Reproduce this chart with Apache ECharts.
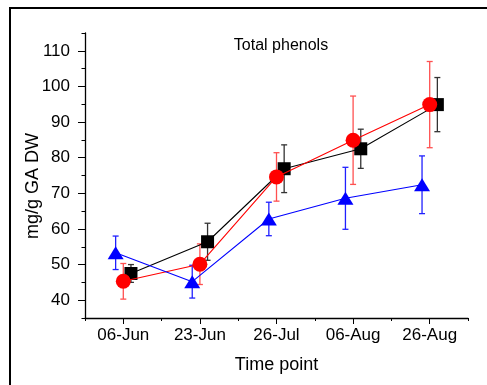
<!DOCTYPE html>
<html>
<head>
<meta charset="utf-8">
<script src="https://cdn.jsdelivr.net/npm/echarts@6/dist/echarts.min.js"></script>
<style>
  html, body { margin: 0; padding: 0; background: #fff; }
  #chart { width: 487px; height: 385px; }
</style>
</head>
<body>
<div id="chart"></div>
<script>
// categories and values
const categories = ['06-Jun', '23-Jun', '26-Jul', '06-Aug', '26-Aug'];
const blackMean = [47.5, 56.4, 76.9, 82.5, 94.9];
const blackErr = [2.5, 5.2, 6.7, 5.5, 7.6];
const redMean = [45.3, 50.1, 74.6, 84.9, 94.9];
const redErr = [5.0, 5.7, 6.8, 12.4, 12.1];
const blueMean = [53.3, 45.2, 62.8, 68.6, 72.4];
const blueErr = [4.7, 4.6, 4.7, 8.7, 8.1];
const yMajor = [40, 50, 60, 70, 80, 90, 100, 110];
const yMinor = [35, 45, 55, 65, 75, 85, 95, 105, 115];
const xMajor = [0, 1, 2, 3, 4];
const xMinor = [-0.5, 0.5, 1.5, 2.5, 3.5, 4.5];

const FONT = 'Liberation Sans';

function points(mean, shift) {
  return mean.map((v, i) => [i + shift, v]);
}

function bars(mean, err, shift) {
  return mean.map((v, i) => [i + shift, v - err[i], v + err[i]]);
}

function errorSeries(data, color, z) {
  return {
    type: 'custom',
    z: z,
    silent: true,
    data: data,
    renderItem: function (params, api) {
      const lo = api.coord([api.value(0), api.value(1)]);
      const hi = api.coord([api.value(0), api.value(2)]);
      const cap = 3;
      const style = {stroke: color, lineWidth: 1.3};
      return {
        type: 'group',
        children: [
          {type: 'line', shape: {x1: lo[0], y1: lo[1], x2: hi[0], y2: hi[1]}, style: style},
          {type: 'line', shape: {x1: lo[0] - cap, y1: lo[1], x2: lo[0] + cap, y2: lo[1]}, style: style},
          {type: 'line', shape: {x1: hi[0] - cap, y1: hi[1], x2: hi[0] + cap, y2: hi[1]}, style: style}
        ]
      };
    }
  };
}

function lineSeries(data, color, symbol, size, z) {
  return {
    type: 'line',
    z: z,
    data: data,
    symbol: symbol,
    symbolSize: size,
    showSymbol: true,
    itemStyle: {color: color},
    lineStyle: {color: color, width: 1.1}
  };
}

const chart = echarts.init(document.getElementById('chart'));

const option = {
  animation: false,
  backgroundColor: '#fff',
  title: {
    text: 'Total phenols',
    left: 276,
    top: 33,
    textAlign: 'center',
    textStyle: {fontFamily: FONT, fontSize: 16, fontWeight: 'normal', color: '#000'}
  },
  graphic: [
    {
      type: 'rect',
      shape: {x: 10, y: 8, width: 700, height: 700},
      style: {fill: 'none', stroke: '#000', lineWidth: 2}
    },
    {
      // y axis title, a bit below the axis middle as in the original
      type: 'text',
      x: 33,
      y: 186,
      rotation: Math.PI / 2,
      style: {
        text: 'mg/g GA DW',
        fontFamily: FONT,
        fontSize: 18,
        fill: '#000',
        align: 'center',
        verticalAlign: 'middle'
      }
    }
  ],
  grid: {left: 85, right: 19, top: 33, bottom: 67},
  xAxis: [
    {
      type: 'value',
      min: -0.5,
      max: 4.5,
      name: 'Time point',
      nameLocation: 'middle',
      nameGap: 38,
      nameTextStyle: {fontFamily: FONT, fontSize: 18, color: '#000'},
      axisLine: {show: true, onZero: false, lineStyle: {color: '#000', width: 1.3}},
      axisTick: {show: true, customValues: xMajor, length: 6, lineStyle: {color: '#000', width: 1}},
      axisLabel: {
        customValues: xMajor,
        margin: 9,
        fontFamily: FONT,
        fontSize: 17,
        color: '#000',
        formatter: v => categories[Math.round(v)]
      },
      splitLine: {show: false}
    },
    {
      type: 'value',
      min: -0.5,
      max: 4.5,
      position: 'bottom',
      axisLine: {show: false, onZero: false},
      axisTick: {show: true, customValues: xMinor, length: 3, lineStyle: {color: '#000', width: 1}},
      axisLabel: {show: false},
      splitLine: {show: false}
    }
  ],
  yAxis: [
    {
      type: 'value',
      min: 35,
      max: 115,
      axisLine: {show: true, onZero: false, lineStyle: {color: '#000', width: 1.3}},
      axisTick: {show: true, customValues: yMajor, length: 7, lineStyle: {color: '#000', width: 1}},
      axisLabel: {customValues: yMajor, margin: 15, fontFamily: FONT, fontSize: 17, color: '#000'},
      splitLine: {show: false}
    },
    {
      type: 'value',
      min: 35,
      max: 115,
      position: 'left',
      axisLine: {show: false, onZero: false},
      axisTick: {show: true, customValues: yMinor, length: 3.5, lineStyle: {color: '#000', width: 1}},
      axisLabel: {show: false},
      splitLine: {show: false}
    }
  ],
  series: [
    errorSeries(bars(blackMean, blackErr, 0.1), '#333', 1),
    errorSeries(bars(redMean, redErr, 0), '#ff5050', 1),
    errorSeries(bars(blueMean, blueErr, -0.1), '#2020ff', 1),
    lineSeries(points(blackMean, 0.1), '#000', 'rect', 13, 2),
    lineSeries(points(redMean, 0), '#ff0000', 'circle', 15, 3),
    lineSeries(points(blueMean, -0.1), '#0000ff', 'triangle', [16, 13], 4)
  ]
};

chart.setOption(option);
</script>
</body>
</html>
